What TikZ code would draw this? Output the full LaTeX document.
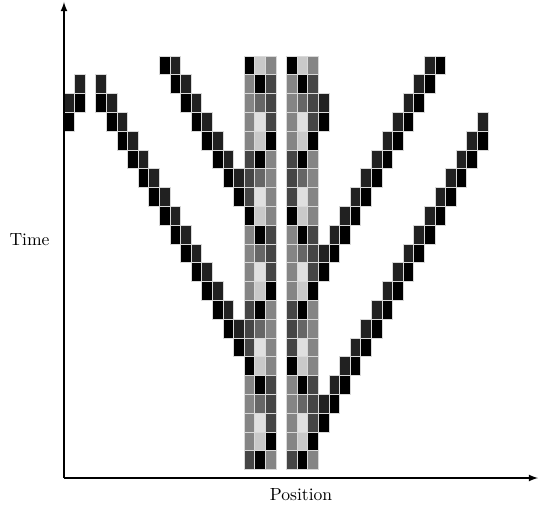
\documentclass[tikz,border=0pt]{standalone}
\colorlet{ink0}{black}
\colorlet{ink1}{black!87}
\colorlet{ink3}{black!73}
\colorlet{ink4}{black!60}
\colorlet{ink5}{black!48}
\colorlet{ink8}{black!21}
\colorlet{ink9}{black!12}
\tikzset{cellbox/.style={draw=black!15, line width=0.5pt}}
\newcommand{\cell}[3]{\path[cellbox, fill=#3] ({#1},{21-(#2)}) rectangle ++(1,1);}

\begin{document}
\begin{tikzpicture}[>=latex, semithick]
  \useasboundingbox (-1.28,-0.6) rectangle (9.5,9.56);
  \begin{scope}[x=0.212cm, y=0.376cm, yshift=0.168cm]
    % particles, row 0 at the top
    \foreach \r in {0,...,6} {\cell{9+\r}{\r}{ink0} \cell{10+\r}{\r}{ink1}}
    \cell{16}{7}{ink0}
    \cell{3}{1}{ink1}
    \foreach \r in {2,...,14} {\cell{\r+1}{\r}{ink0} \cell{\r+2}{\r}{ink1}}
    \cell{16}{15}{ink0}
    \cell{1}{1}{ink1}
    \cell{0}{2}{ink1} \cell{1}{2}{ink0}
    \cell{0}{3}{ink0} \cell{39}{3}{ink1}
    \foreach \r in {4,...,18} {\cell{42-\r}{\r}{ink1} \cell{43-\r}{\r}{ink0}}
    \cell{24}{19}{ink0}
    \foreach \r in {0,...,10} {\cell{34-\r}{\r}{ink1} \cell{35-\r}{\r}{ink0}}
    \cell{24}{11}{ink0}
    \cell{24}{2}{ink1}
    \cell{24}{3}{ink0}
    % the two walls
    \foreach \m/\a/\b/\c in {0/ink0/ink8/ink5, 1/ink5/ink0/ink3, 2/ink5/ink4/ink3,
        3/ink5/ink9/ink3, 4/ink5/ink8/ink0, 5/ink3/ink0/ink5, 6/ink3/ink4/ink5,
        7/ink3/ink9/ink5} {
      \foreach \s in {0,8,16} {
        \pgfmathtruncatemacro{\r}{\m+\s}
        \ifnum\r<22
          \cell{17}{\r}{\a} \cell{18}{\r}{\b} \cell{19}{\r}{\c}
          \cell{21}{\r}{\a} \cell{22}{\r}{\b} \cell{23}{\r}{\c}
        \fi
      }
    }
  \end{scope}
  \draw[->, thick] (0,0) -- (9.48,0) node[midway, below=2pt] (pos) {Position};
  \draw[->, thick] (0,0) -- (0,9.52) node[midway, left=4.5pt] (time) {Time};
\end{tikzpicture}
\end{document}
